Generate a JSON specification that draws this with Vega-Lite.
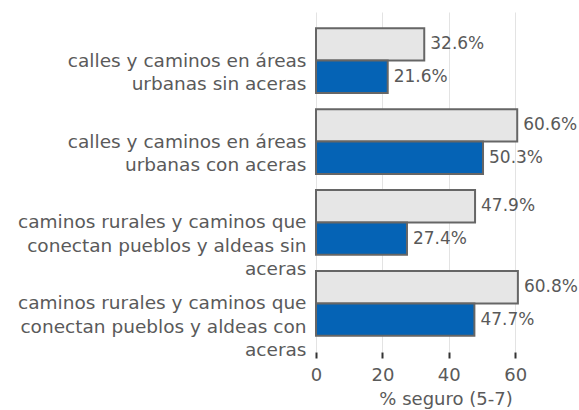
{
  "$schema": "https://vega.github.io/schema/vega-lite/v6.json",
  "autosize": {"type": "none"},
  "padding": {"left": 316, "top": 12, "right": 4, "bottom": 58},
  "width": 259,
  "height": 340,
  "background": "white",
  "config": {"view": {"stroke": null}, "font": "DejaVu Sans"},
  "data": {"values": [
    {"cat": "calles y caminos en áreas |urbanas sin aceras", "order": 1, "series": "A", "value": 32.6},
    {"cat": "calles y caminos en áreas |urbanas sin aceras", "order": 1, "series": "B", "value": 21.6},
    {"cat": "calles y caminos en áreas |urbanas con aceras", "order": 2, "series": "A", "value": 60.6},
    {"cat": "calles y caminos en áreas |urbanas con aceras", "order": 2, "series": "B", "value": 50.3},
    {"cat": "caminos rurales y caminos que |conectan pueblos y aldeas sin |aceras", "order": 3, "series": "A", "value": 47.9},
    {"cat": "caminos rurales y caminos que |conectan pueblos y aldeas sin |aceras", "order": 3, "series": "B", "value": 27.4},
    {"cat": "caminos rurales y caminos que |conectan pueblos y aldeas con |aceras", "order": 4, "series": "A", "value": 60.8},
    {"cat": "caminos rurales y caminos que |conectan pueblos y aldeas con |aceras", "order": 4, "series": "B", "value": 47.7}
  ]},
  "encoding": {
    "y": {
      "field": "cat", "type": "nominal", "sort": {"field": "order"},
      "scale": {"paddingInner": 0.2, "paddingOuter": 0.2},
      "axis": {
        "title": null, "domain": false, "ticks": false, "grid": false,
        "labelExpr": "split(datum.label, '|')",
        "labelFontSize": 18.5, "labelColor": "#5a5a5a", "labelLineHeight": 23.5,
        "labelPadding": 10, "labelLimit": 400
      }
    },
    "yOffset": {"field": "series", "type": "nominal", "scale": {"paddingInner": 0, "paddingOuter": 0}},
    "x": {
      "field": "value", "type": "quantitative",
      "scale": {"domain": [0, 78], "nice": false},
      "axis": {
        "values": [0, 20, 40, 60], "title": "% seguro (5-7)",
        "domain": false, "grid": true, "gridColor": "#e3e3e3", "gridWidth": 1,
        "tickSize": 6, "tickWidth": 2, "tickColor": "#333333",
        "labelFontSize": 18, "labelColor": "#5a5a5a", "labelPadding": 8, "labelFlush": false,
        "titleFontSize": 18, "titleFontWeight": "normal", "titleColor": "#5a5a5a", "titlePadding": 6
      }
    }
  },
  "layer": [
    {
      "mark": {"type": "bar", "stroke": "#666666", "strokeWidth": 2, "clip": false},
      "encoding": {
        "color": {"field": "series", "type": "nominal", "legend": null,
          "scale": {"domain": ["A", "B"], "range": ["#e6e6e6", "#0563b5"]}}
      }
    },
    {
      "mark": {"type": "text", "align": "left", "baseline": "middle", "dx": 6, "fontSize": 17, "color": "#595959", "clip": false,
        "text": {"expr": "format(datum.value, '.1f') + '%'"}}
    }
  ]
}
